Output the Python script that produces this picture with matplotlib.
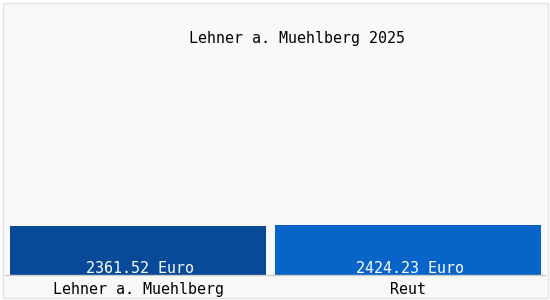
import matplotlib.pyplot as plt
from matplotlib.patches import Rectangle

TITLE      = 'Lehner a. Muehlberg 2025'
CATEGORIES = ['Lehner a. Muehlberg', 'Reut']
VALUES     = [2361.52, 2424.23]
COLORS     = ['#084a98', '#0864c8']
WIDTHS     = [0.948, 0.985]

plt.rcParams['font.family'] = ['DejaVu Sans Mono']

fig = plt.figure(figsize=(5.5, 3), dpi=100, facecolor='white')
fig.patches.append(Rectangle((2.5 / 550, 2.5 / 300), 545 / 550, 295 / 300,
                             transform=fig.transFigure, facecolor='#f9f9f9',
                             edgecolor='#e2e2e2', linewidth=1, zorder=-1))

ax = fig.add_axes([5 / 550, 25 / 300, 540 / 550, 275 / 300])
ax.set_zorder(1)
ax.patch.set_alpha(0)

x = range(len(VALUES))
ax.bar(x, VALUES, width=WIDTHS, color=COLORS, zorder=2)

for xi, v in zip(x, VALUES):
    ax.annotate(f'{v:.2f} Euro', (xi, 0), xytext=(1.5, 5), textcoords='offset points',
                ha='center', va='center', color='white', fontsize=10.8, zorder=3)

ax.set_xlim(-0.4926, 1.5074)
ax.set_ylim(0, 13254)
ax.set_xticks(list(x))
ax.set_xticklabels(CATEGORIES, fontsize=10.8)
ax.tick_params(axis='x', length=0, pad=5)
ax.set_yticks([])
for side in ['top', 'left', 'right']:
    ax.spines[side].set_visible(False)
ax.spines['bottom'].set_color('#cccccc')
ax.spines['bottom'].set_linewidth(1)

fig.text(297 / 550, 1 - 39 / 300, TITLE, ha='center', va='center', fontsize=10.8)

fig.savefig('out.png', dpi=100, facecolor=fig.get_facecolor())
